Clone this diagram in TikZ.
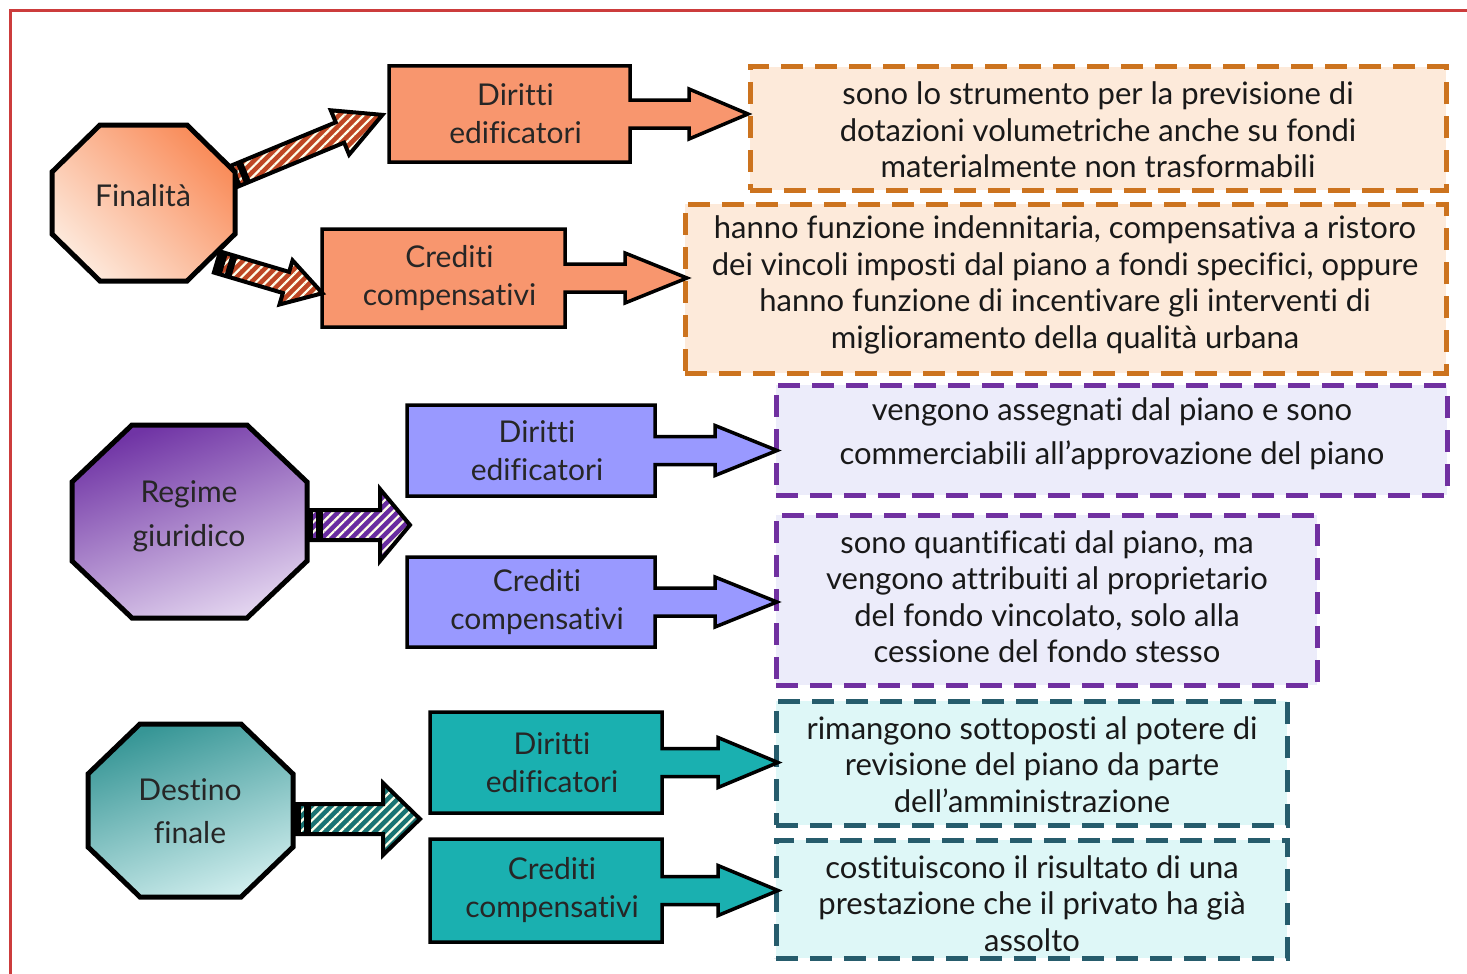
\documentclass[tikz,border=0pt]{standalone}
\usepackage{fontspec}
\setmainfont{Lato}[Ligatures={TeX,NoCommon}]
\usetikzlibrary{patterns.meta}
\definecolor{redframe}{RGB}{204,60,60}
\definecolor{orfill}{RGB}{248,150,110}
\definecolor{ordash}{RGB}{204,115,30}
\definecolor{orlight}{RGB}{253,234,218}
\definecolor{orstripe}{RGB}{190,70,35}
\definecolor{ordark}{RGB}{249,140,90}
\definecolor{orpale}{RGB}{253,232,218}
\definecolor{blfill}{RGB}{153,153,255}
\definecolor{purdash}{RGB}{112,48,160}
\definecolor{bllight}{RGB}{236,236,250}
\definecolor{purstripe}{RGB}{105,45,160}
\definecolor{purdark}{RGB}{112,52,165}
\definecolor{purpale}{RGB}{225,210,238}
\definecolor{tlfill}{RGB}{26,176,176}
\definecolor{tldash}{RGB}{38,92,108}
\definecolor{tllight}{RGB}{222,247,247}
\definecolor{tlstripe}{RGB}{25,115,115}
\definecolor{tldark}{RGB}{55,150,150}
\definecolor{tlpale}{RGB}{205,236,236}
\tikzset{
  lbl/.style={font=\fontsize{30}{38}\selectfont, align=center, inner sep=0pt, text=black!85},
  note/.style={font=\fontsize{31}{36.5}\selectfont, align=center, inner sep=0pt, text=black!90},
  dbox/.style={line width=5pt, dash pattern=on 22pt off 12pt, inner sep=0pt, outer sep=0pt},
  cbox/.style={draw=black, line width=3.5pt, line join=miter},
  octo/.style={draw=black, line width=5pt, line join=miter},
}
\newcommand{\callout}[9]{%
  \draw[cbox, fill=#2] (#3,#4) -- (#5,#4) -- (#5,{(#4+#6)/2-14}) -- (#7,{(#4+#6)/2-14})
   -- (#7,{(#4+#6)/2-25}) -- (#8,{(#4+#6)/2}) -- (#7,{(#4+#6)/2+25}) -- (#7,{(#4+#6)/2+14})
   -- (#5,{(#4+#6)/2+14}) -- (#5,#6) -- (#3,#6) -- cycle;
  \node[lbl] (#1) at ({(#3+#5)/2+6},{(#4+#6)/2}) {#9};}
\newcommand{\octa}[7]{%
  \path[#7] ({#1+#5},#2) -- ({#3-#5},#2) -- (#3,{#2+#6}) -- (#3,{#4-#6})
   -- ({#3-#5},#4) -- ({#1+#5},#4) -- (#1,{#4-#6}) -- (#1,{#2+#6}) -- cycle;}
\newcommand{\stripearrow}[8]{%
  \begin{scope}[shift={(#1,#2)},rotate=#3]
   \draw[line width=4pt, line join=miter, preaction={fill=#8},
     pattern={Lines[angle=45,distance=7pt,line width=2.2pt]}, pattern color=white!92!yellow]
     (0,-#5) -- ({#4-#7},-#5) -- ({#4-#7},-#6) -- (#4,0) -- ({#4-#7},#6) -- ({#4-#7},#5) -- (0,#5) -- cycle;
   \fill[black] (0,-#5) rectangle (8,#5);
   \fill[black] (11,-#5) rectangle (18,#5);
  \end{scope}}
\begin{document}
\begin{tikzpicture}[x=1pt,y=-1pt]
\useasboundingbox (0,0) rectangle (1467,974);
\fill[white] (0,0) rectangle (1467,974);
\draw[redframe, line width=3pt] (10,974) -- (10,11) -- (1467,11);

% dashed description boxes
\node[dbox, draw=ordash, fill=orlight, minimum width=696pt, minimum height=123pt] (d1) at (1098,128.5) {};
\node[dbox, draw=ordash, fill=orlight, minimum width=761pt, minimum height=169pt] (d2) at (1065.5,288.5) {};
\node[dbox, draw=purdash, fill=bllight, minimum width=671pt, minimum height=110pt] (d3) at (1111.5,440) {};
\node[dbox, draw=purdash, fill=bllight, minimum width=541pt, minimum height=170pt] (d4) at (1046.5,600) {};
\node[dbox, draw=tldash, fill=tllight, minimum width=511pt, minimum height=124pt] (d5) at (1031.5,763) {};
\node[dbox, draw=tldash, fill=tllight, minimum width=511pt, minimum height=118pt] (d6) at (1031.5,899) {};

\node[note] (t1) at (1098,130) {sono lo strumento per la previsione di\\dotazioni volumetriche anche su fondi\\materialmente non trasformabili};
\node[note] (t2) at (1065,285) {hanno funzione indennitaria, compensativa a ristoro\\dei vincoli imposti dal piano a fondi specifici, oppure\\hanno funzione di incentivare gli interventi di\\miglioramento della qualità urbana};
\node[note, font=\fontsize{31}{44}\selectfont] (t3) at (1112,434) {vengono assegnati dal piano e sono\\commerciabili all’approvazione del piano};
\node[note] (t4) at (1047,596.5) {sono quantificati dal piano, ma\\vengono attribuiti al proprietario\\del fondo vincolato, solo alla\\cessione del fondo stesso};
\node[note] (t5) at (1032,764.5) {rimangono sottoposti al potere di\\revisione del piano da parte\\dell’amministrazione};
\node[note] (t6) at (1032,903.5) {costituiscono il risultato di una\\prestazione che il privato ha già\\assolto};

% callout boxes
\callout{c1}{orfill}{389}{66}{630}{162}{689}{748}{Diritti\\edificatori}
\callout{c2}{orfill}{322}{229}{565}{327}{625}{687}{Crediti\\compensativi}
\callout{c3}{blfill}{407}{405}{655}{496}{715}{777}{Diritti\\edificatori}
\callout{c4}{blfill}{407}{557}{655}{647}{715}{777}{Crediti\\compensativi}
\callout{c5}{tlfill}{430}{712}{662}{813}{718}{778}{Diritti\\edificatori}
\callout{c6}{tlfill}{430}{839}{662}{942}{718}{778}{Crediti\\compensativi}

% striped arrows
\stripearrow{230}{178}{22.5}{165}{11}{24}{46}{orstripe}
\stripearrow{217}{262}{-16.5}{110}{11}{23}{38}{orstripe}
\stripearrow{305}{525}{0}{105}{15}{36}{30}{purstripe}
\stripearrow{293}{819}{0}{127}{15}{36}{37}{tlstripe}

% octagons
\octa{52}{125}{235}{281}{48}{47}{octo, top color=ordark, bottom color=orpale, shading angle=-45}
\node[lbl] (fin) at (143,196) {Finalità};
\octa{72}{425}{307}{618}{60}{57}{octo, top color=purdark, bottom color=purpale, shading angle=20}
\node[lbl, font=\fontsize{30}{44}\selectfont] (reg) at (189,516) {Regime\\giuridico};
\octa{88}{724}{293}{897}{52}{50}{octo, top color=tldark, bottom color=tlpale, shading angle=20}
\node[lbl, font=\fontsize{30}{43}\selectfont] (des) at (190,811) {Destino\\finale};
\end{tikzpicture}
\end{document}
